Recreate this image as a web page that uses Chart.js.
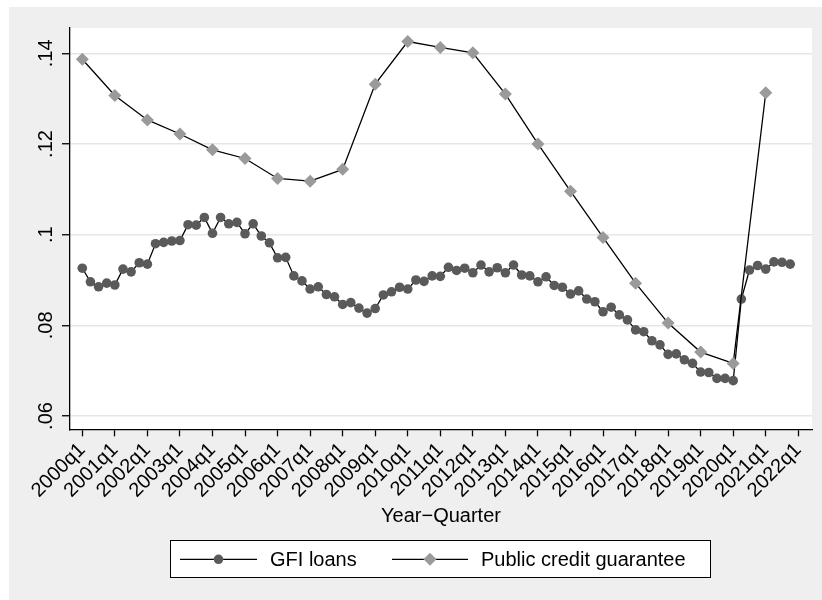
<!DOCTYPE html>
<html>
<head>
<meta charset="utf-8">
<script src="https://cdn.jsdelivr.net/npm/chart.js@4.4.0/dist/chart.umd.min.js"></script>
<style>
  html, body { margin: 0; padding: 0; background: #fff; }
  #frame { position: absolute; left: 9px; top: 7px; width: 813px; height: 593px; background: #efefef; }
  canvas { display: block; }
</style>
</head>
<body>
<div id="frame"><canvas id="chart" width="813" height="593"></canvas></div>
<script>
// x axis is a quarter index, 0 = 2000q1
const yearLabels = [
  "2000q1", "2001q1", "2002q1", "2003q1", "2004q1", "2005q1", "2006q1", "2007q1",
  "2008q1", "2009q1", "2010q1", "2011q1", "2012q1", "2013q1", "2014q1", "2015q1",
  "2016q1", "2017q1", "2018q1", "2019q1", "2020q1", "2021q1", "2022q1"
];
const yearTicks = [0, 4, 8, 12, 16, 20, 24, 28, 32, 36, 40, 44, 48, 52, 56, 60, 64, 68, 72, 76, 80, 84, 88];

// quarterly, 2000q1 .. 2021q4
const gfiLoans = [
  0.0926, 0.0896, 0.0885, 0.0893, 0.0889, 0.0924, 0.0918, 0.0938,
  0.0935, 0.0980, 0.0983, 0.0986, 0.0987, 0.1022, 0.1021, 0.1038,
  0.1003, 0.1038, 0.1024, 0.1027, 0.1002, 0.1024, 0.0997, 0.0982,
  0.0949, 0.0950, 0.0909, 0.0898, 0.0880, 0.0885, 0.0868, 0.0863,
  0.0846, 0.0850, 0.0838, 0.0827, 0.0837, 0.0867, 0.0874, 0.0884,
  0.0880, 0.0900, 0.0897, 0.0909, 0.0908, 0.0928, 0.0921, 0.0926,
  0.0916, 0.0933, 0.0918, 0.0927, 0.0916, 0.0933, 0.0911, 0.0909,
  0.0896, 0.0907, 0.0888, 0.0884, 0.0869, 0.0876, 0.0858, 0.0852,
  0.0830, 0.0840, 0.0823, 0.0812, 0.0790, 0.0786, 0.0766, 0.0757,
  0.0736, 0.0737, 0.0724, 0.0716, 0.0697, 0.0696, 0.0683, 0.0683,
  0.0678, 0.0858, 0.0922, 0.0932, 0.0924, 0.0940, 0.0939, 0.0935
];

// yearly, observed in q1 of 2000 .. 2021
const publicGuarantee = [
  0.1387, 0.1307, 0.1253, 0.1222, 0.1187, 0.1168, 0.1124, 0.1118,
  0.1144, 0.1332, 0.1426, 0.1413, 0.1401, 0.1310, 0.1200, 0.1096,
  0.0994, 0.0893, 0.0805, 0.0741, 0.0716, 0.1313
];

const yTicks = [0.06, 0.08, 0.10, 0.12, 0.14];
const yTickLabels = [".06", ".08", ".1", ".12", ".14"];

const FONT = '"Liberation Sans", Arial, Helvetica, sans-serif';
Chart.defaults.font.family = FONT;
Chart.defaults.color = "#000";

const gfiColor = "#5a5a5a";
const pcgColor = "#9a9a9a";

const gfiPoints = gfiLoans.map((v, i) => ({ x: i, y: v }));
const pcgPoints = publicGuarantee.map((v, k) => ({ x: yearTicks[k], y: v }));

// white plot region on the grey page
const plotBackground = {
  id: "plotBackground",
  beforeDraw(chart) {
    const { ctx, chartArea: a } = chart;
    ctx.save();
    ctx.fillStyle = "#fff";
    ctx.fillRect(a.left, a.top, a.right - a.left, a.bottom - a.top);
    ctx.restore();
  }
};

function drawMarker(ctx, style, x, y, r, color) {
  ctx.fillStyle = color;
  ctx.beginPath();
  if (style === "circle") {
    ctx.arc(x, y, r, 0, Math.PI * 2);
  } else {
    ctx.moveTo(x, y - r);
    ctx.lineTo(x + r, y);
    ctx.lineTo(x, y + r);
    ctx.lineTo(x - r, y);
    ctx.closePath();
  }
  ctx.fill();
}

// vertical y labels, axis title and the boxed legend underneath
const decorations = {
  id: "decorations",
  afterDraw(chart) {
    const { ctx, scales } = chart;
    ctx.save();
    ctx.fillStyle = "#000";
    ctx.font = "20px " + FONT;

    yTicks.forEach((v, i) => {
      const y = scales.y.getPixelForValue(v);
      ctx.save();
      ctx.translate(43, y);
      ctx.rotate(-Math.PI / 2);
      ctx.textAlign = "center";
      ctx.textBaseline = "alphabetic";
      ctx.fillText(yTickLabels[i], 0, 0);
      ctx.restore();
    });

    const a = chart.chartArea;
    ctx.textAlign = "center";
    ctx.textBaseline = "alphabetic";
    ctx.fillText("Year\u2212Quarter", (a.left + a.right) / 2, 515);

    // legend box
    ctx.fillStyle = "#fff";
    ctx.fillRect(161.5, 533.5, 540, 37);
    ctx.strokeStyle = "#000";
    ctx.lineWidth = 1;
    ctx.strokeRect(161.5, 533.5, 540, 37);

    const ly = 552.3;
    const items = [
      { label: "GFI loans", x0: 171, x1: 248, style: "circle", r: 4.8, color: gfiColor },
      { label: "Public credit guarantee", x0: 383, x1: 459, style: "diamond", r: 6.5, color: pcgColor }
    ];
    items.forEach((it) => {
      ctx.strokeStyle = "#000";
      ctx.lineWidth = 1.3;
      ctx.beginPath();
      ctx.moveTo(it.x0, ly);
      ctx.lineTo(it.x1, ly);
      ctx.stroke();
      drawMarker(ctx, it.style, (it.x0 + it.x1) / 2, ly, it.r, it.color);
      ctx.fillStyle = "#000";
      ctx.textAlign = "left";
      ctx.textBaseline = "middle";
      ctx.fillText(it.label, it.x1 + 13, ly + 1);
    });
    ctx.restore();
  }
};

new Chart(document.getElementById("chart"), {
  type: "line",
  data: {
    datasets: [
      {
        label: "GFI loans",
        data: gfiPoints,
        order: 1,
        borderColor: "#000",
        borderWidth: 1.3,
        tension: 0,
        pointStyle: "circle",
        pointRadius: 4.8,
        pointBackgroundColor: gfiColor,
        pointBorderWidth: 0
      },
      {
        label: "Public credit guarantee",
        data: pcgPoints,
        order: 0,
        borderColor: "#000",
        borderWidth: 1.3,
        tension: 0,
        pointStyle: "rectRot",
        pointRadius: 6.5,
        pointBackgroundColor: pcgColor,
        pointBorderWidth: 0
      }
    ]
  },
  options: {
    responsive: false,
    animation: false,
    devicePixelRatio: 1,
    layout: { padding: { top: 21, right: 10, left: 0, bottom: 0 } },
    plugins: {
      legend: { display: false },
      tooltip: { enabled: false }
    },
    scales: {
      x: {
        type: "linear",
        min: -1.511,
        max: 89.683,
        afterBuildTicks: (s) => { s.ticks = yearTicks.map((v) => ({ value: v })); },
        afterFit: (s) => { s.height = 170.7; },
        ticks: {
          autoSkip: false,
          minRotation: 45,
          maxRotation: 45,
          padding: 2,
          font: { size: 20 },
          color: "#000",
          callback: (v, i) => yearLabels[i]
        },
        grid: { drawOnChartArea: false, drawTicks: true, tickLength: 7, tickColor: "#000", tickWidth: 1.3 },
        border: { color: "#000", width: 1.3 }
      },
      y: {
        min: 0.05707,
        max: 0.14558,
        afterBuildTicks: (s) => { s.ticks = yTicks.map((v) => ({ value: v })); },
        afterFit: (s) => { s.width = 61; },
        ticks: { display: false },
        grid: { color: "#e6e6e6", lineWidth: 1.5, drawTicks: true, tickLength: 8, tickColor: "#000", tickWidth: 1.3 },
        border: { color: "#000", width: 1.3 }
      }
    }
  },
  plugins: [plotBackground, decorations]
});
</script>
</body>
</html>
